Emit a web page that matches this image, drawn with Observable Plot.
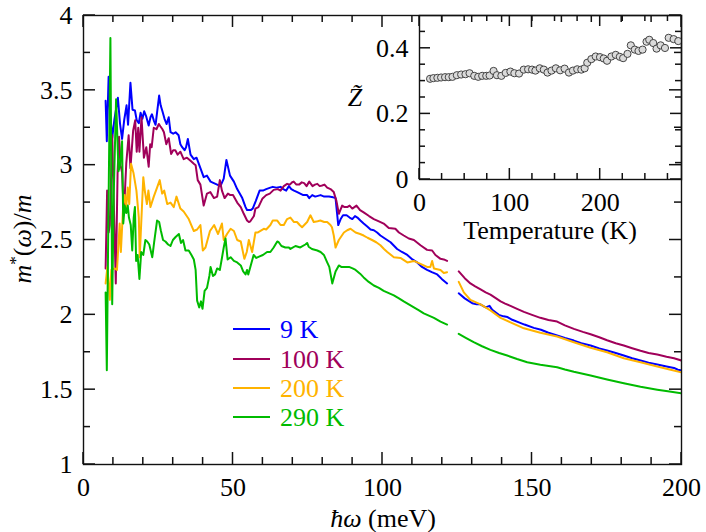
<!DOCTYPE html>
<html><head><meta charset="utf-8">
<script src="https://cdn.jsdelivr.net/npm/d3@7"></script>
<script src="https://cdn.jsdelivr.net/npm/@observablehq/plot@0.6"></script>
<style>
body{margin:0;background:#fff;}
#wrap{position:relative;width:706px;height:532px;}
#wrap svg{position:absolute;left:0;top:0;}
</style></head><body><div id="wrap"></div>
<script>
// ---------- data ----------
const seriesNames = ["9 K", "100 K", "200 K", "290 K"];
const seriesColors = ["#0000ff", "#a0005a", "#ffb300", "#00bb00"];

// [energy (meV), m*/m]
const curve9K = [[7.4,3.43],[7.8,3.16],[8.4,3.59],[8.9,3.35],[9.6,3.18],[10.3,3.30],[11.5,3.45],[12.2,3.28],[12.9,3.175],[13.6,3.30],[14.4,3.40],[14.9,3.27],[15.7,3.55],[16.4,3.37],[17.2,3.365],[17.8,3.30],[18.5,3.28],[19.1,3.35],[19.7,3.31],[20.3,3.36],[20.9,3.33],[21.8,3.265],[22.4,3.32],[22.9,3.34],[23.5,3.30],[24.1,3.27],[25.3,3.465],[25.8,3.40],[26.4,3.36],[27.1,3.31],[27.8,3.275],[28.5,3.32],[29.1,3.22],[30.0,3.21],[30.8,3.22],[31.8,3.20],[32.4,3.14],[33.0,3.12],[33.8,3.10],[34.3,3.12],[34.9,3.175],[35.8,3.07],[36.9,3.04],[37.8,3.05],[39.1,2.98],[40.2,2.92],[41.3,2.93],[42.5,2.89],[43.6,2.88],[44.7,2.87],[45.8,2.86],[46.9,2.91],[47.8,3.035],[49.0,2.93],[50.3,2.89],[51.4,2.84],[53.1,2.78],[54.2,2.72],[54.7,2.70],[55.9,2.70],[56.6,2.71],[57.6,2.76],[58.9,2.83],[60.0,2.83],[61.1,2.84],[62.5,2.85],[63.3,2.855],[64.5,2.85],[65.9,2.855],[66.8,2.84],[67.8,2.83],[68.7,2.86],[69.5,2.84],[70.4,2.83],[71.5,2.82],[72.5,2.81],[73.5,2.80],[74.8,2.80],[75.5,2.78],[76.5,2.80],[77.5,2.79],[79.3,2.80],[80.5,2.79],[82.1,2.79],[83.5,2.785],[84.3,2.78],[84.8,2.68],[85.2,2.60],[86.0,2.64],[86.8,2.665],[88.0,2.665],[89.0,2.65],[89.9,2.64],[90.8,2.66],[91.6,2.65],[92.6,2.63],[93.7,2.61],[94.9,2.59],[96.0,2.57],[97.1,2.565],[98.2,2.55],[99.3,2.53],[100.8,2.51],[102.7,2.485],[104.9,2.44],[106.5,2.42],[108.3,2.40],[110.0,2.37],[111.6,2.35],[113.2,2.32],[114.9,2.30],[116.5,2.285],[118.3,2.27],[119.8,2.24],[121.6,2.21],
[125.5,2.144],[127.5,2.11],[130.0,2.078],[131.5,2.07],[132.7,2.07],[134.5,2.05],[135.8,2.06],[136.7,2.033],[138.9,2.00],[140.5,1.99],[141.8,1.985],[143.4,1.967],[145.6,1.95],[147.5,1.935],[150.6,1.913],[153,1.90],[155.5,1.88],[158.4,1.862],[161,1.845],[164,1.828],[166.5,1.81],[169.6,1.795],[172.5,1.775],[175.1,1.762],[178,1.745],[180.7,1.728],[183.5,1.71],[186.3,1.695],[189,1.68],[191.9,1.668],[195,1.655],[197.5,1.645],[198.8,1.633],[200,1.63]];

const curve100K = [[7.4,2.31],[7.9,2.83],[8.4,2.55],[8.8,2.60],[9.6,3.2],[10.1,2.77],[10.8,2.21],[11.4,2.95],[11.9,3.19],[12.4,3.0],[12.9,2.95],[13.5,2.67],[14.3,3.01],[15.1,3.2],[15.7,2.98],[16.6,3.23],[17.3,3.30],[17.8,3.09],[18.3,3.25],[18.7,3.09],[19.4,3.32],[20.2,3.05],[21.0,3.12],[21.8,2.99],[22.3,3.14],[22.8,3.12],[23.5,3.25],[24.4,3.24],[25.2,3.275],[25.7,3.26],[26.4,3.24],[26.9,3.22],[27.7,3.14],[28.5,3.18],[29.3,3.075],[30.0,3.10],[30.7,3.10],[31.5,3.07],[32.4,3.09],[33.5,3.04],[34.6,3.05],[35.8,3.03],[36.9,3.01],[37.5,3.00],[38.2,2.90],[39.1,2.87],[40.2,2.73],[41.3,2.81],[42.4,2.82],[43.6,2.78],[44.7,2.79],[45.6,2.90],[46.3,2.83],[47.2,2.78],[48.3,2.81],[49.1,2.80],[50.0,2.80],[51.4,2.75],[52.6,2.72],[53.6,2.675],[54.7,2.63],[55.3,2.62],[55.8,2.625],[57.0,2.66],[57.5,2.71],[58.5,2.72],[59.8,2.775],[61.1,2.80],[62.3,2.81],[63.6,2.835],[65.0,2.84],[65.9,2.83],[67.0,2.86],[68.1,2.875],[69.0,2.87],[69.8,2.886],[70.3,2.89],[71.2,2.87],[72.1,2.87],[73.0,2.885],[73.8,2.88],[74.6,2.86],[75.5,2.89],[76.6,2.86],[77.4,2.87],[78.2,2.875],[79.0,2.86],[79.8,2.864],[80.6,2.87],[81.5,2.85],[82.6,2.84],[83.7,2.82],[84.6,2.76],[85.4,2.675],[86.5,2.73],[87.3,2.72],[88.2,2.72],[89.0,2.73],[89.9,2.71],[91.3,2.73],[92.5,2.70],[93.7,2.685],[95.5,2.66],[97.1,2.64],[98.8,2.625],[100.4,2.61],[102.1,2.58],[104.3,2.575],[105.5,2.55],[107.1,2.53],[108.8,2.51],[110.5,2.50],[112.7,2.465],[114.9,2.434],[116.6,2.43],[117.7,2.40],[119.4,2.374],[120.5,2.37],[121.6,2.36],
[125.5,2.29],[127.5,2.245],[129.4,2.21],[131,2.19],[132.8,2.17],[134.5,2.15],[136.1,2.135],[138,2.11],[139.5,2.09],[141,2.075],[142.8,2.06],[145,2.04],[147.3,2.02],[150,2.00],[152.8,1.98],[155.5,1.965],[158.4,1.955],[161,1.93],[164,1.906],[167,1.886],[169.6,1.87],[172.5,1.85],[175.1,1.83],[178,1.81],[180.7,1.795],[183.5,1.777],[186.3,1.76],[189,1.745],[191.9,1.735],[195,1.72],[197.5,1.71],[200,1.695]];

const curve200K = [[7.4,2.21],[8.0,2.32],[8.8,2.10],[9.3,2.30],[10.4,2.31],[11.2,2.30],[12.1,2.61],[12.5,2.42],[13.3,2.74],[13.8,2.80],[14.3,2.72],[14.8,2.85],[15.3,2.74],[15.9,3.01],[16.7,2.95],[17.7,2.83],[18.5,2.65],[18.8,2.385],[19.3,2.61],[20.0,2.92],[20.5,2.83],[21.2,2.74],[21.7,2.83],[22.4,2.72],[23.5,2.79],[24.6,2.85],[25.5,2.90],[26.3,2.81],[27.0,2.83],[28.0,2.74],[29.1,2.75],[30.2,2.72],[31.1,2.79],[32.4,2.71],[33.5,2.69],[35.2,2.64],[36.9,2.56],[38.0,2.57],[39.1,2.60],[39.9,2.43],[40.8,2.45],[42.3,2.56],[43.7,2.60],[45.0,2.54],[46.3,2.61],[46.9,2.50],[48.0,2.54],[49.2,2.575],[50.3,2.56],[51.4,2.50],[52.6,2.49],[53.8,2.374],[54.6,2.42],[55.3,2.50],[56.4,2.42],[57.5,2.55],[58.2,2.55],[60.3,2.575],[61.1,2.57],[62.5,2.60],[63.3,2.63],[64.8,2.63],[65.9,2.60],[67.0,2.60],[68.1,2.64],[69.2,2.65],[70.4,2.62],[71.4,2.62],[72.3,2.60],[73.1,2.585],[74.8,2.62],[75.9,2.665],[77.0,2.62],[78.3,2.625],[79.2,2.63],[80.5,2.62],[81.5,2.62],[82.6,2.60],[83.1,2.585],[83.7,2.53],[84.3,2.45],[85.4,2.50],[87.1,2.55],[88.2,2.565],[89.3,2.575],[91.0,2.55],[92.5,2.54],[93.7,2.53],[95.0,2.515],[96.5,2.50],[97.9,2.485],[99.3,2.465],[100.5,2.44],[101.6,2.42],[103.8,2.385],[106.0,2.38],[108.3,2.35],[110.5,2.36],[112.7,2.34],[114.9,2.32],[116.0,2.32],[116.6,2.36],[117.2,2.31],[119.4,2.30],[120.5,2.28],[121.6,2.285],
[125.5,2.22],[127.2,2.15],[129.4,2.10],[132.8,2.07],[136.1,2.03],[139.5,1.98],[142.8,1.95],[147.3,1.91],[152.8,1.88],[158.4,1.855],[164,1.817],[169.6,1.78],[175.1,1.75],[180.7,1.71],[186.3,1.683],[191.9,1.655],[196,1.635],[200,1.615]];

const curve290K = [[7.4,2.15],[7.8,1.63],[8.3,2.6],[9.0,3.85],[9.6,2.07],[10.1,2.79],[10.9,3.44],[11.7,2.96],[12.2,3.0],[12.9,3.16],[13.3,2.61],[13.8,2.73],[14.3,2.68],[14.8,2.73],[15.2,2.65],[15.8,2.60],[16.3,2.43],[16.8,2.65],[17.2,2.72],[17.6,2.36],[18.1,2.40],[18.7,2.24],[19.3,2.42],[20.0,2.40],[20.7,2.50],[21.3,2.49],[22.0,2.47],[23.0,2.385],[23.6,2.48],[24.6,2.63],[25.3,2.62],[25.9,2.56],[26.6,2.50],[27.4,2.49],[28.3,2.47],[29.1,2.46],[29.9,2.50],[30.8,2.52],[31.9,2.54],[32.6,2.48],[33.3,2.50],[34.1,2.43],[35.2,2.43],[36.1,2.40],[36.9,2.37],[37.5,2.30],[38.0,2.095],[38.7,2.05],[39.3,2.09],[39.8,2.04],[40.5,2.16],[41.3,2.18],[42.1,2.26],[42.5,2.32],[43.3,2.26],[44.0,2.27],[44.7,2.31],[45.6,2.30],[46.3,2.38],[46.9,2.45],[47.5,2.51],[48.2,2.37],[49.2,2.385],[50.3,2.36],[51.4,2.35],[52.6,2.33],[53.4,2.29],[54.2,2.27],[54.7,2.30],[55.1,2.27],[55.8,2.32],[56.9,2.40],[57.8,2.38],[58.9,2.39],[60.0,2.40],[61.4,2.42],[62.5,2.42],[63.6,2.45],[64.8,2.49],[65.3,2.485],[66.2,2.46],[67.5,2.45],[68.7,2.45],[69.2,2.44],[70.9,2.46],[72.5,2.45],[74.2,2.47],[74.8,2.48],[75.3,2.455],[76.4,2.44],[78.2,2.43],[79.3,2.42],[80.4,2.40],[81.5,2.35],[82.2,2.32],[83.2,2.21],[84.3,2.29],[85.4,2.33],[86.2,2.32],[87.1,2.32],[88.8,2.32],[90.0,2.31],[91.0,2.30],[92.5,2.275],[93.7,2.25],[95.4,2.22],[97.1,2.196],[98.8,2.18],[100.4,2.16],[102.1,2.145],[103.8,2.13],[105.5,2.11],[107.1,2.09],[108.8,2.07],[110.5,2.05],[112.2,2.03],[113.8,2.01],[115.5,1.995],[117.2,1.98],[119.4,1.955],[121.6,1.935],
[125.5,1.873],[128,1.845],[130.5,1.817],[133.3,1.79],[136.1,1.766],[139,1.745],[141.7,1.728],[145,1.705],[148.4,1.683],[152.8,1.666],[158.4,1.65],[161,1.635],[164,1.62],[169.6,1.595],[175.1,1.568],[180.7,1.543],[186.3,1.52],[191.9,1.50],[196,1.487],[200,1.476]];

const dataGapMeV = 123; // lines are interrupted here

// inset: Z~ vs temperature
const tempK = [11.7,15.4,19.8,23.9,28.3,32.4,36.5,41.3,46.1,50.9,55.4,60.6,65,69.4,73.9,77.6,82,85.7,90.6,95.4,100.6,105,110.2,115.4,120.2,124.6,128.3,133.1,137.6,141.7,146.1,150.9,155.7,160.6,165.4,169.8,174.6,179.1,182.8,185.7,190.2,195,199.8,203.9,207.6,212.4,217.2,221.7,225.4,230.2,233.9,238.3,242.4,246.9,251.3,254.3,258.7,262.4,266.9,271.7,275.8,281.3,286.4];
const zTilde = [0.307,0.309,0.310,0.311,0.312,0.312,0.313,0.318,0.320,0.321,0.324,0.316,0.313,0.316,0.316,0.317,0.331,0.318,0.316,0.325,0.329,0.324,0.323,0.335,0.336,0.335,0.332,0.339,0.335,0.326,0.332,0.339,0.333,0.338,0.326,0.332,0.336,0.335,0.339,0.356,0.367,0.375,0.373,0.369,0.362,0.375,0.380,0.374,0.370,0.383,0.409,0.396,0.392,0.396,0.420,0.426,0.416,0.399,0.409,0.401,0.432,0.428,0.422];

// ticks
const xMajor = [0, 50, 100, 150, 200];
const xMinor = [10, 20, 30, 40, 60, 70, 80, 90, 110, 120, 130, 140, 160, 170, 180, 190];
const yMajor = [1, 1.5, 2, 2.5, 3, 3.5, 4];
const yMinor = [1.25, 1.75, 2.25, 2.75, 3.25, 3.75];
const insetXMajor = [0, 100, 200];
const insetXMinor = [25, 50, 75, 125, 150, 175, 225, 250, 275];
const insetYMajor = [0, 0.2, 0.4];
const insetYMinor = [0.05, 0.1, 0.15, 0.25, 0.3, 0.35, 0.45];

// ---------- build ----------
const FONT = "Liberation Serif";
const FS = 26;
const curves = [curve9K, curve100K, curve200K, curve290K];
const rows = [];
seriesNames.forEach((s, i) => curves[i].forEach(([e, m]) => rows.push({s, e, m})));
const insetRows = tempK.map((t, i) => ({t, z: zTilde[i]}));

const style = {fontFamily: FONT, fontSize: FS + "px", background: "transparent", overflow: "visible", color: "#000"};
const fmt = d => String(+d.toFixed(3));

function tickLabels(xMaj, yMaj) {
  return [
    Plot.axisX({anchor: "bottom", ticks: xMaj, tickSize: 0, tickPadding: 13, tickFormat: fmt, label: null, fill: "#000"}),
    Plot.axisY({anchor: "left", ticks: yMaj, tickSize: 0, tickPadding: 11, tickFormat: fmt, label: null, fill: "#000"})
  ];
}

const W = 706, H = 532;
const main = Plot.plot({
  width: W, height: H,
  marginLeft: 83, marginRight: 25, marginTop: 15, marginBottom: 68,
  style,
  x: {domain: [0, 200]},
  y: {domain: [1, 4]},
  color: {domain: seriesNames, range: seriesColors},
  marks: [
    Plot.line(rows, {x: "e", y: "m", stroke: "s", z: d => d.s + (d.e > dataGapMeV ? "b" : "a"), strokeWidth: 2, clip: true}),
    ...tickLabels(xMajor, yMajor),
    Plot.frame({stroke: "#111", strokeWidth: 1.4})
  ]
});

const inset = Plot.plot({
  width: W, height: 250,
  marginLeft: 419, marginRight: 25, marginTop: 15, marginBottom: 71,
  style,
  x: {domain: [0, 290]},
  y: {domain: [0, 0.5]},
  marks: [
    Plot.dot(insetRows, {x: "t", y: "z", r: 3.6, fill: "#dadada", stroke: "#444", strokeWidth: 1, clip: true}),
    ...tickLabels(insetXMajor, insetYMajor),
    Plot.frame({stroke: "#111", strokeWidth: 1.4})
  ]
});

const wrap = document.getElementById("wrap");
wrap.appendChild(main);
wrap.appendChild(inset);

// overlay: inward ticks (placed with each plot's own scales), axis titles, legend
const ov = d3.create("svg").attr("width", W).attr("height", H)
  .style("font-family", FONT).style("font-size", FS + "px");

function drawTicks(plot, xMaj, xMin, yMaj, yMin, big, small) {
  const sx = plot.scale("x"), sy = plot.scale("y");
  const [x0, x1] = sx.range, [y0, y1] = sy.range; // y0 bottom, y1 top
  const g = ov.append("g").attr("stroke", "#111").attr("stroke-width", 1.5);
  const vx = (list, len) => list.forEach(v => {
    const px = sx.apply(v);
    g.append("line").attr("x1", px).attr("x2", px).attr("y1", y0).attr("y2", y0 - len);
    g.append("line").attr("x1", px).attr("x2", px).attr("y1", y1).attr("y2", y1 + len);
  });
  const vy = (list, len) => list.forEach(v => {
    const py = sy.apply(v);
    g.append("line").attr("y1", py).attr("y2", py).attr("x1", x0).attr("x2", x0 + len);
    g.append("line").attr("y1", py).attr("y2", py).attr("x1", x1).attr("x2", x1 - len);
  });
  vx(xMaj, big); vx(xMin, small); vy(yMaj, big); vy(yMin, small);
}
drawTicks(main, xMajor, xMinor, yMajor, yMinor, 12, 7);
drawTicks(inset, insetXMajor, insetXMinor, insetYMajor, insetYMinor, 11, 6);

const xl = ov.append("text").attr("x", 383).attr("y", 527).attr("text-anchor", "middle");
xl.append("tspan").attr("font-style", "italic").text("ħω");
xl.append("tspan").text(" (meV)");

const yl = ov.append("text").attr("transform", "translate(31,239) rotate(-90)").attr("text-anchor", "middle");
yl.append("tspan").attr("font-style", "italic").text("m");
yl.append("tspan").attr("font-size", "17px").attr("dy", "-10").text("*");
yl.append("tspan").attr("dy", "10").text("(");
yl.append("tspan").attr("font-style", "italic").text("ω");
yl.append("tspan").text(")/");
yl.append("tspan").attr("font-style", "italic").text("m");

ov.append("text").attr("x", 355).attr("y", 106).attr("text-anchor", "middle").attr("font-style", "italic").text("Z\u0303");
ov.append("text").attr("x", 550).attr("y", 239).attr("text-anchor", "middle").text("Temperature (K)");

const legendY = [329, 359, 388, 417];
seriesNames.forEach((s, i) => {
  ov.append("line").attr("x1", 233).attr("x2", 270).attr("y1", legendY[i]).attr("y2", legendY[i])
    .attr("stroke", seriesColors[i]).attr("stroke-width", 2);
  ov.append("text").attr("x", 280).attr("y", legendY[i] + 9).attr("fill", seriesColors[i]).text(s);
});
wrap.appendChild(ov.node());
</script></body></html>
